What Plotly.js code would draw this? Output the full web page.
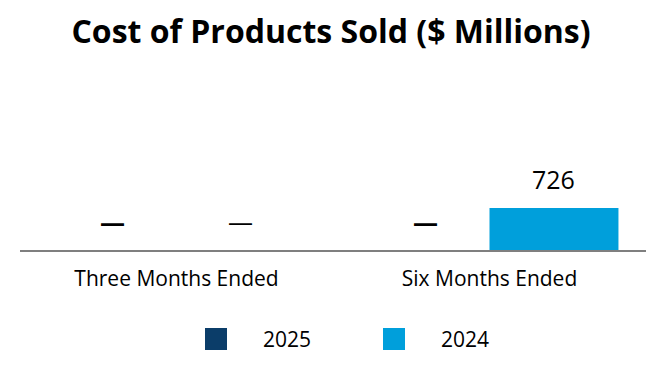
<!DOCTYPE html>
<html>
<head>
<meta charset="utf-8">
<script src="https://cdn.plot.ly/plotly-3.0.1.min.js"></script>
<style>html,body{margin:0;padding:0;background:#fff;}#chart{width:666px;height:380px;}</style>
</head>
<body>
<div id="chart"></div>
<script>
const categories = ["Three Months Ended", "Six Months Ended"];
const seriesNames = ["2025", "2024"];
const values2025 = [0, 0];
const values2024 = [0, 726];
const labels2025 = ["<b>—</b>", "<b>—</b>"];
const labels2024 = ["—", "726"];
const colors = ["#0b3d69", "#009fdb"];

const W = 666, H = 380;
const margin = {l: 20, r: 20, t: 70, b: 130};
const pw = W - margin.l - margin.r, ph = H - margin.t - margin.b;
const font = "'Open Sans', sans-serif";
const bargap = 0.176;

const traces = [
  {type: "bar", name: seriesNames[0], x: categories, y: values2025,
   marker: {color: colors[0]}, hoverinfo: "skip"},
  {type: "bar", name: seriesNames[1], x: categories, y: values2024,
   marker: {color: colors[1]}, hoverinfo: "skip"}
];

const shapes = [], annotations = [];
// data labels above bars (grouped offsets derived from bargap)
const barW = (1 - bargap) / 2;
[[values2025, labels2025], [values2024, labels2024]].forEach(([vals, labs], s) => {
  vals.forEach((v, i) => {
    annotations.push({xref: "x", yref: "y", x: i + (s - 0.5) * barW, y: v,
      xanchor: "center", yanchor: "bottom", yshift: 10, text: labs[i], showarrow: false,
      font: {family: font, size: 25, color: "#000"}});
  });
});

// custom legend (large squares)
const px2x = p => (p - margin.l) / pw;
const px2y = p => (H - margin.b - p) / ph;
const legendX = [205, 383];
seriesNames.forEach((n, i) => {
  shapes.push({type: "rect", xref: "paper", yref: "paper",
    x0: px2x(legendX[i]), x1: px2x(legendX[i] + 22),
    y0: px2y(328), y1: px2y(350), fillcolor: colors[i], line: {width: 0}});
  annotations.push({xref: "paper", yref: "paper", x: px2x(legendX[i] + 56), y: px2y(339),
    xanchor: "left", yanchor: "middle", text: n, showarrow: false,
    font: {family: font, size: 21, color: "#000"}});
});

const layout = {
  width: W, height: H, margin: margin,
  paper_bgcolor: "#fff", plot_bgcolor: "#fff",
  title: {text: "<b>Cost of Products Sold ($ Millions)</b>", x: 0.497, xanchor: "center",
    y: 1 - 32 / H, yanchor: "middle", yref: "container",
    font: {family: font, size: 32, color: "#000"}},
  barmode: "group", bargap: bargap, bargroupgap: 0,
  showlegend: false,
  xaxis: {showline: true, linecolor: "#7f7f7f", linewidth: 2, ticks: "", showgrid: false,
    ticklabelstandoff: 9,
    tickfont: {family: font, size: 21, color: "#000"}, zeroline: false},
  yaxis: {range: [0, 3110], visible: false, showgrid: false, zeroline: false},
  shapes: shapes, annotations: annotations
};

Plotly.newPlot("chart", traces, layout, {staticPlot: true});
</script>
</body>
</html>
